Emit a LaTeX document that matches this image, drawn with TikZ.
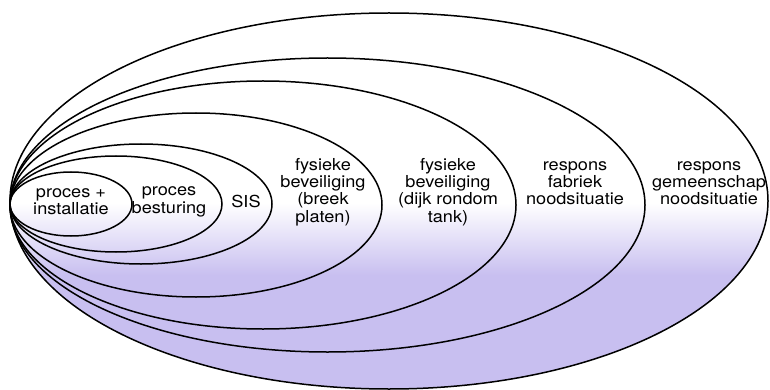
\documentclass[tikz,border=0pt]{standalone}
\usepackage{fontspec}
\setmainfont{TeX Gyre Heros}[FakeStretch=1.1]
\definecolor{lav}{RGB}{200,191,240}
\begin{document}
\begin{tikzpicture}[x=1pt,y=-1pt,
  ring/.style={draw=black,line width=1.5pt},
  lbl/.style={align=center,inner sep=0pt,font=\fontsize{16.5}{17.3}\selectfont}]
\useasboundingbox (0,0) rectangle (770,390);
% soft lavender wash in the lower half of the outer ring
\begin{scope}
  \clip (389,201) ellipse [x radius=379pt,y radius=188pt];
  \shade[top color=white,bottom color=lav] (0,203) rectangle (770,275);
  \fill[lav] (0,274.5) rectangle (770,390);
\end{scope}
% nested rings, all touching at the left
\draw[ring] (389,201)   ellipse [x radius=379pt,  y radius=188pt];
\draw[ring] (327.5,205) ellipse [x radius=317.5pt,y radius=147pt];
\draw[ring] (263,205)   ellipse [x radius=253pt,  y radius=124pt];
\draw[ring] (196,205)   ellipse [x radius=186pt,  y radius=92pt];
\draw[ring] (141,204)   ellipse [x radius=131pt,  y radius=60pt];
\draw[ring] (116,204)   ellipse [x radius=106pt,  y radius=48pt];
\draw[ring] (71,204)    ellipse [x radius=61pt,   y radius=32pt];
% labels
\node[lbl] (l1) at (71,202)  {proces +\\installatie};
\node[lbl] (l2) at (169,202) {proces\\besturing};
\node[lbl] (l3) at (246,201) {SIS};
\node[lbl] (l4) at (323,192) {fysieke\\beveiliging\\(breek\\platen)};
\node[lbl] (l5) at (448,192) {fysieke\\beveiliging\\(dijk rondom\\tank)};
\node[lbl] (l6) at (575,183) {respons\\fabriek\\noodsituatie};
\node[lbl] (l7) at (709,183) {respons\\gemeenschap\\noodsituatie};
\end{tikzpicture}
\end{document}
